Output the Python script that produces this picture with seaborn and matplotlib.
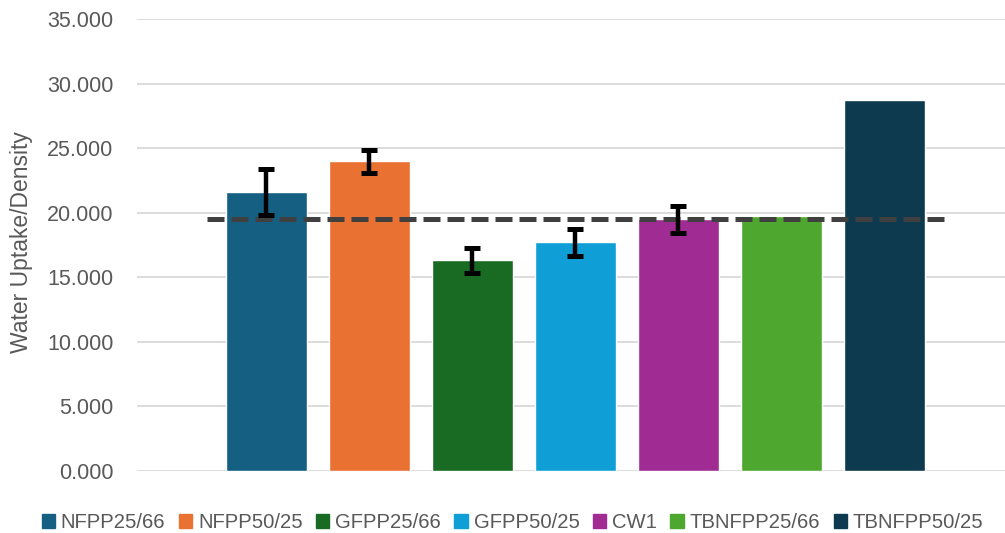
import matplotlib
matplotlib.use('Agg')
import matplotlib.pyplot as plt
from matplotlib.patches import Patch
import numpy as np
import pandas as pd
import seaborn as sns

sns.set_theme(style='white')
plt.rcParams['font.family'] = ['Liberation Sans', 'DejaVu Sans']

# Values
categories = ['NFPP25/66', 'NFPP50/25', 'GFPP25/66', 'GFPP50/25',
              'CW1', 'TBNFPP25/66', 'TBNFPP50/25']
values = [21.62, 23.98, 16.30, 17.70, 19.48, 19.74, 28.71]
errors = [1.80, 0.88, 0.98, 1.07, 1.07, np.nan, np.nan]
reference_level = 19.5
colours = ['#156082', '#E97132', '#196B24', '#0F9ED5',
           '#A02B93', '#4EA72E', '#0E3A4F']

TEXT_GREY = '#595959'

data = pd.DataFrame({'sample': categories, 'value': values, 'err': errors})

fig = plt.figure(figsize=(10.05, 5.33), dpi=100)
ax = fig.add_axes([0.1363, 0.1163, 0.8637, 0.8481])

sns.barplot(data=data, x='sample', y='value', hue='sample',
            palette=colours, width=0.786, dodge=False, legend=False,
            saturation=1, ax=ax, zorder=2)

# Reference (dashed) level across the categories
ax.hlines(reference_level, -0.578, len(categories) - 1 + 0.578,
          colors='#404040', linewidth=3.6, linestyles=(0, (3.4, 1.4)),
          zorder=3)

# Error bars on top of everything
ax.errorbar(np.arange(len(categories)), data['value'], yerr=data['err'],
            fmt='none', ecolor='black', elinewidth=3.2, capsize=5.5,
            capthick=3.6, zorder=4)

ax.set_ylim(0, 35)
ax.set_xlim(-1.257, 7.17)
ticks = np.arange(0, 35.1, 5)
ax.set_yticks(ticks)
ax.set_yticklabels(['{:.3f}'.format(v) for v in ticks],
                   fontsize=15.5, color=TEXT_GREY)
ax.yaxis.grid(True, color='#D9D9D9', linewidth=1.3, zorder=0)
ax.set_axisbelow(True)
ax.set_xticks([])
ax.set_xlabel('')
ax.set_ylabel('Water Uptake/Density', fontsize=16.5, color=TEXT_GREY)
ax.yaxis.set_label_coords(-0.1198, 0.507)
ax.tick_params(axis='y', length=0, pad=17)
for spine in ax.spines.values():
    spine.set_visible(False)

handles = [Patch(color=c, label=s) for c, s in zip(colours, categories)]
fig.legend(handles=handles, ncol=len(categories), loc='center',
           bbox_to_anchor=(0.51, 0.019), frameon=False, fontsize=14.6,
           handlelength=0.65, handleheight=0.7, handletextpad=0.3,
           columnspacing=0.66, labelcolor=TEXT_GREY, borderpad=0)

fig.savefig('out.png', dpi=100)
